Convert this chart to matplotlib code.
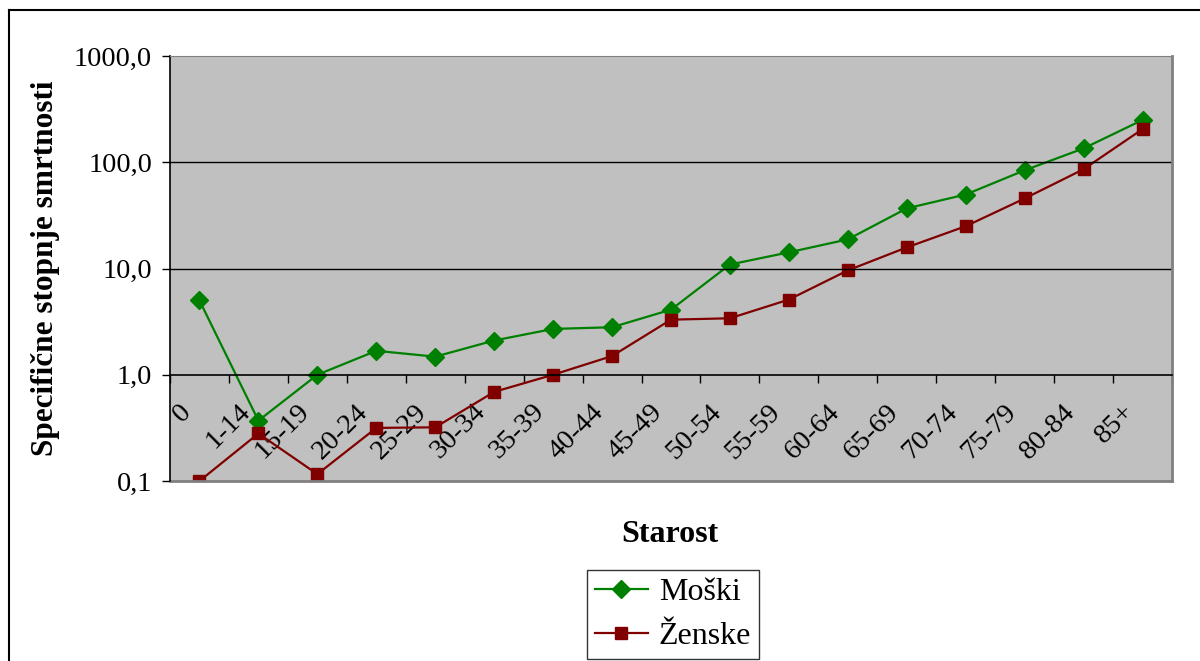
import numpy as np
import matplotlib
matplotlib.use('Agg')
import matplotlib.pyplot as plt
import matplotlib.transforms as mtransforms
from matplotlib.lines import Line2D
from matplotlib.ticker import FixedLocator, NullFormatter, FixedFormatter

plt.rcParams['font.family'] = ['Liberation Serif', 'DejaVu Serif']

# Podatki
starost = ['0', '1-14', '15-19', '20-24', '25-29', '30-34', '35-39', '40-44',
           '45-49', '50-54', '55-59', '60-64', '65-69', '70-74', '75-79',
           '80-84', '85+']
moski = [5.0, 0.37, 1.0, 1.68, 1.48, 2.1, 2.7, 2.8, 4.1, 10.9, 14.2, 18.8,
         36.8, 49.7, 84, 135, 250]
zenske = [0.1, 0.28, 0.116, 0.316, 0.32, 0.69, 1.0, 1.5, 3.3, 3.4, 5.1, 9.6,
          15.8, 25, 45.6, 86, 205]
y_ticks = [0.1, 1, 10, 100, 1000]
y_labels = ['0,1', '1,0', '10,0', '100,0', '1000,0']

fig = plt.figure(figsize=(12, 6.61), dpi=100)
ax = fig.add_axes([170 / 1200, 1 - 481 / 661, 1002 / 1200, 425 / 661])
ax.set_facecolor('#C0C0C0')

x = np.arange(len(starost))
ax.plot(x, moski, color='#008000', lw=1.6, marker='D', ms=9, label='Moški')
ax.plot(x, zenske, color='#800000', lw=1.6, marker='s', ms=9, label='Ženske')

ax.set_yscale('log')
ax.set_ylim(0.1, 1000)
ax.set_xlim(-0.5, len(starost) - 0.5)

ax.yaxis.set_major_locator(FixedLocator(y_ticks))
ax.yaxis.set_major_formatter(FixedFormatter(y_labels))
ax.yaxis.set_minor_locator(FixedLocator([]))
ax.tick_params(axis='y', which='major', direction='out', length=6, width=1,
               labelsize=20.5, pad=7)
for v in [10, 100]:
    ax.axhline(v, color='black', lw=1)

# os x gre skozi 1,0
ax.spines['bottom'].set_position(('data', 1))
ax.spines['bottom'].set_linewidth(1.2)
ax.spines['left'].set_linewidth(1.2)
ax.spines['top'].set_color('#808080')
ax.spines['right'].set_color('#808080')
ax.spines['right'].set_linewidth(2)
ax.axhline(0.1, color='#808080', lw=2, clip_on=False)

ax.xaxis.set_major_locator(FixedLocator(np.arange(-0.5, len(starost))))
ax.xaxis.set_major_formatter(NullFormatter())
ax.xaxis.set_minor_locator(FixedLocator(x))
ax.xaxis.set_minor_formatter(FixedFormatter(starost))
ax.tick_params(axis='x', which='major', direction='out', length=6, width=1)
ax.tick_params(axis='x', which='minor', length=0, labelsize=20.5, pad=4)
premik = mtransforms.ScaledTranslation(-0.21, -0.19, fig.dpi_scale_trans)
for lab in ax.xaxis.get_minorticklabels():
    lab.set_rotation(45)
    lab.set_ha('right')
    lab.set_va('top')
    lab.set_rotation_mode('anchor')
    lab.set_transform(lab.get_transform() + premik)

ax.set_ylabel('Specifične stopnje smrtnosti', fontsize=22.5, fontweight='bold',
              labelpad=10)
fig.text(670 / 1200, 1 - 535 / 661, 'Starost', fontsize=23, fontweight='bold',
         ha='center', va='center')

leg = fig.legend(loc='upper left', bbox_to_anchor=(587 / 1200, 1 - 570 / 661),
                 fontsize=23, frameon=True, fancybox=False, edgecolor='black',
                 borderpad=0.25, handlelength=1.65, labelspacing=0.45,
                 handletextpad=0.35, borderaxespad=0)
leg.get_frame().set_linewidth(1)

# okvir slike
fig.add_artist(Line2D([9 / 1200, 1], [1 - 10 / 661, 1 - 10 / 661],
                      color='black', lw=1.5))
fig.add_artist(Line2D([9 / 1200, 9 / 1200], [0, 1 - 10 / 661],
                      color='black', lw=1.5))

fig.savefig('out.png', dpi=100)
